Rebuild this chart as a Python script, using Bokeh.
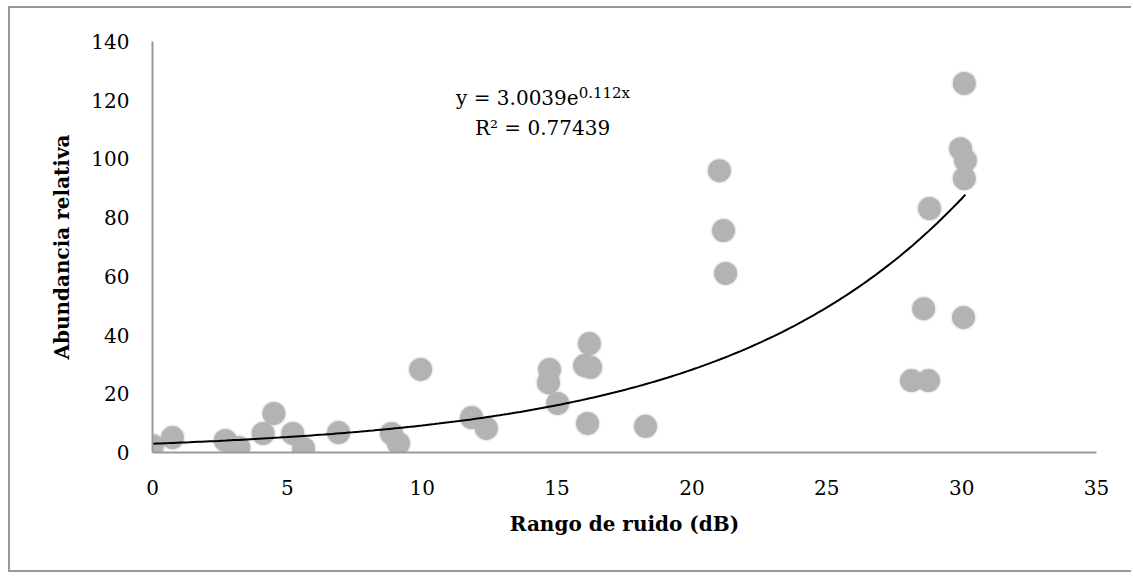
from bokeh.plotting import figure
from bokeh.models import Range1d, Label, FixedTicker
from bokeh.embed import file_html
from bokeh.resources import INLINE
import numpy as np

# Data
rango_ruido = [0.0, 0.74, 2.7, 3.2, 4.1, 4.5, 5.2, 5.6, 6.9, 8.86, 9.12,
               9.94, 11.83, 12.38, 14.72, 14.68, 15.02, 16.2, 16.02, 16.24,
               16.13, 18.28, 21.02, 21.17, 21.25, 30.1, 29.96, 30.14, 30.1,
               28.81, 28.59, 30.07, 28.14, 28.77]
abundancia = [2.4, 5.1, 4.1, 1.7, 6.5, 13.3, 6.5, 1.4, 6.8, 6.5, 3.1,
              28.3, 11.9, 8.2, 28.3, 23.8, 16.7, 37.1, 29.6, 29.0,
              9.9, 8.9, 96.0, 75.6, 61.0, 125.7, 103.5, 99.5, 93.3,
              83.1, 49.0, 46.0, 24.5, 24.5]

# Exponential trend (as stated on the chart)
coef_a = 3.0039
coef_b = 0.112
r2 = 0.77439

x_ticks = [0, 5, 10, 15, 20, 25, 30, 35]
y_ticks = [0, 20, 40, 60, 80, 100, 120, 140]

SERIF = "DejaVu Serif"

p = figure(width=1123, height=566, output_backend="svg", toolbar_location=None,
           x_range=Range1d(0, 35), y_range=Range1d(0, 140),
           min_border_left=142, min_border_right=37,
           min_border_top=33, min_border_bottom=122)
p.styles = {"margin-left": "8px", "margin-top": "6px",
            "border-left": "2px solid #999999",
            "border-top": "2px solid #999999",
            "border-bottom": "2px solid #999999",
            "border-right": "none"}
p.outline_line_color = None
p.xgrid.grid_line_color = None
p.ygrid.grid_line_color = None
p.background_fill_color = "white"
p.border_fill_color = "white"

for ax in (p.xaxis[0], p.yaxis[0]):
    ax.axis_line_color = "#999999"
    ax.axis_line_width = 2
    ax.major_tick_line_color = None
    ax.minor_tick_line_color = None
    ax.major_tick_out = 0
    ax.major_tick_in = 0
    ax.major_label_text_font = SERIF
    ax.major_label_text_font_size = "20px"
    ax.major_label_text_color = "black"
    ax.axis_label_text_font = SERIF
    ax.axis_label_text_font_size = "20px"
    ax.axis_label_text_font_style = "bold"
    ax.axis_label_text_color = "black"

p.xaxis.ticker = FixedTicker(ticks=x_ticks)
p.yaxis.ticker = FixedTicker(ticks=y_ticks)
p.xaxis.axis_label = "Rango de ruido (dB)"
p.yaxis.axis_label = "Abundancia relativa"
p.xaxis.major_label_standoff = 27
p.yaxis.major_label_standoff = 23
p.xaxis.axis_label_standoff = 14
p.yaxis.axis_label_standoff = 14

# points with soft halo
p.scatter(rango_ruido, abundancia, size=26, color="#9a9a9a", alpha=0.18, line_color=None)
p.scatter(rango_ruido, abundancia, size=23, color="#b3b3b3", line_color=None)

# trend line
xs = np.linspace(0, max(rango_ruido), 200)
ys = coef_a * np.exp(coef_b * xs)
p.line(xs, ys, line_color="black", line_width=2)

# equation annotation
p.add_layout(Label(x=15.8, y=120.6, text=f"y = {coef_a:.4f}e", text_align="right",
                   text_baseline="alphabetic", text_font=SERIF,
                   text_font_size="20px", text_color="black"))
p.add_layout(Label(x=15.8, y=122.6, text=f"{coef_b:.3f}x", text_align="left",
                   text_baseline="alphabetic", text_font=SERIF,
                   text_font_size="15px", text_color="black"))
p.add_layout(Label(x=14.46, y=110.4, text=f"R\u00b2 = {r2:.5f}", text_align="center",
                   text_baseline="alphabetic", text_font=SERIF,
                   text_font_size="20px", text_color="black"))

open("out.html", "w").write(file_html(p, INLINE))
